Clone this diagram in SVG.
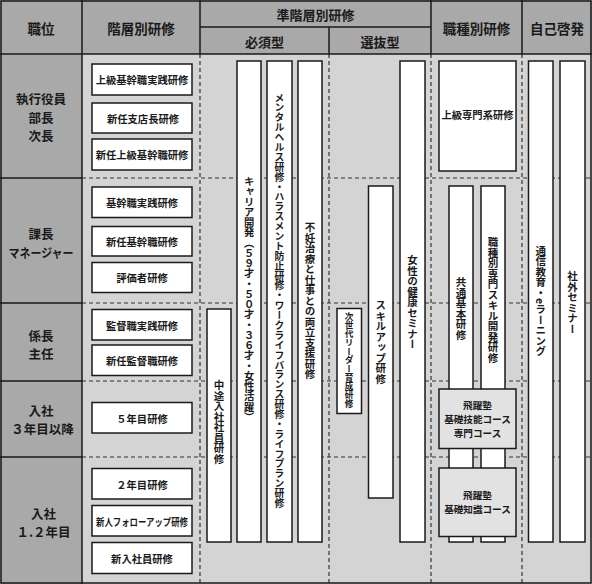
<svg xmlns="http://www.w3.org/2000/svg" width="592" height="584" viewBox="0 0 592 584">
<style>
text { font-family: "Noto Sans CJK JP", "Noto Sans", sans-serif; font-weight: 700; fill: #1a1a1a; }
.hd { font-size: 13.5px; text-anchor: middle; dominant-baseline: central; }
.hs { font-size: 13px; text-anchor: middle; dominant-baseline: central; }
.rt { font-size: 12.5px; text-anchor: middle; dominant-baseline: central; }
.bx { fill: #ffffff; stroke: #1a1a1a; stroke-width: 1.5; }
.gbx { fill: #e2e2e2; stroke: #1a1a1a; stroke-width: 1.5; }
.bt { font-size: 10.3px; text-anchor: middle; dominant-baseline: central; }
.ht { font-size: 9.6px; text-anchor: middle; dominant-baseline: central; }
.vt { font-size: 10.5px; writing-mode: vertical-rl; text-anchor: middle; dominant-baseline: central; }
.dash { stroke: #333333; stroke-width: 1.2; stroke-dasharray: 4 3; fill: none; }
.solid { stroke: #1a1a1a; stroke-width: 1.5; fill: none; }
</style>

<g id="background">
<rect x="0" y="0" width="592" height="584" fill="#d4d4d4"/>
<rect x="0" y="0" width="592" height="54" fill="#a9a9a9"/>
<rect x="0" y="54" width="82" height="530" fill="#a9a9a9"/>
</g>

<g id="grid">
<line class="dash" x1="82" y1="178" x2="591" y2="178"/>
<line class="dash" x1="82" y1="303" x2="591" y2="303"/>
<line class="dash" x1="82" y1="381" x2="591" y2="381"/>
<line class="dash" x1="82" y1="457" x2="591" y2="457"/>
<line class="dash" x1="200" y1="54" x2="200" y2="583"/>
<line class="dash" x1="329" y1="54" x2="329" y2="583"/>
<line class="dash" x1="431" y1="54" x2="431" y2="583"/>
<line class="dash" x1="522" y1="54" x2="522" y2="583"/>
<line class="solid" x1="0" y1="178" x2="82" y2="178"/>
<line class="solid" x1="0" y1="303" x2="82" y2="303"/>
<line class="solid" x1="0" y1="381" x2="82" y2="381"/>
<line class="solid" x1="0" y1="457" x2="82" y2="457"/>
<line class="solid" x1="0" y1="54" x2="592" y2="54"/>
<line class="solid" x1="200" y1="27" x2="431" y2="27"/>
<line class="solid" x1="82" y1="0" x2="82" y2="584"/>
<line class="solid" x1="200" y1="0" x2="200" y2="54"/>
<line class="solid" x1="329" y1="27" x2="329" y2="54"/>
<line class="solid" x1="431" y1="0" x2="431" y2="54"/>
<line class="solid" x1="522" y1="0" x2="522" y2="54"/>
<rect class="solid" x="1" y="1" width="590" height="582"/>
</g>

<g id="header">
<text class="hd" x="41" y="28">職位</text>
<text class="hd" x="141" y="28">階層別研修</text>
<text class="hs" x="315.5" y="14">準階層別研修</text>
<text class="hs" x="264.5" y="41">必須型</text>
<text class="hs" x="380" y="41">選抜型</text>
<text class="hd" x="476.5" y="28">職種別研修</text>
<text class="hd" x="557" y="28">自己啓発</text>
</g>

<g id="positions">
<text class="rt" x="41" y="98.5">執行役員</text>
<text class="rt" x="41" y="117">部長</text>
<text class="rt" x="41" y="135.5">次長</text>
<text class="rt" x="41" y="233.5">課長</text>
<text class="rt" x="41" y="252" textLength="65" lengthAdjust="spacingAndGlyphs">マネージャー</text>
<text class="rt" x="41" y="335">係長</text>
<text class="rt" x="41" y="353">主任</text>
<text class="rt" x="41" y="410">入社</text>
<text class="rt" x="42.5" y="428.5">３年目以降</text>
<text class="rt" x="43.5" y="513">入社</text>
<text class="rt" x="43.5" y="531">１.２年目</text>
</g>

<g id="kaiso-1"><rect class="bx" x="92" y="64" width="100" height="31"/><text class="bt" x="142" y="79.5">上級基幹職実践研修</text></g>
<g id="kaiso-2"><rect class="bx" x="92" y="103" width="100" height="30"/><text class="bt" x="143" y="118">新任支店長研修</text></g>
<g id="kaiso-3"><rect class="bx" x="92" y="139" width="100" height="31"/><text class="bt" x="142" y="154.5">新任上級基幹職研修</text></g>
<g id="kaiso-4"><rect class="bx" x="92" y="187" width="100" height="30.5"/><text class="bt" x="142" y="202">基幹職実践研修</text></g>
<g id="kaiso-5"><rect class="bx" x="92" y="226.5" width="100" height="29.5"/><text class="bt" x="142" y="241.5">新任基幹職研修</text></g>
<g id="kaiso-6"><rect class="bx" x="92" y="262.5" width="100" height="30"/><text class="bt" x="142" y="277.5">評価者研修</text></g>
<g id="kaiso-7"><rect class="bx" x="92" y="309.5" width="100" height="30.5"/><text class="bt" x="142" y="325">監督職実践研修</text></g>
<g id="kaiso-8"><rect class="bx" x="92" y="345" width="100" height="30.5"/><text class="bt" x="142" y="360.5">新任監督職研修</text></g>
<g id="kaiso-9"><rect class="bx" x="92" y="402.5" width="100" height="30.5"/><text class="bt" x="142" y="418">５年目研修</text></g>
<g id="kaiso-10"><rect class="bx" x="92" y="468.5" width="100" height="30.5"/><text class="bt" x="142" y="484">２年目研修</text></g>
<g id="kaiso-11"><rect class="bx" x="92" y="505.5" width="100" height="30.5"/><text class="bt" x="142" y="521" textLength="92" lengthAdjust="spacingAndGlyphs">新人フォローアップ研修</text></g>
<g id="kaiso-12"><rect class="bx" x="92" y="542.5" width="100" height="31"/><text class="bt" x="142" y="558">新入社員研修</text></g>

<g id="chuto"><rect class="bx" x="207" y="309" width="24" height="233"/><text class="vt" x="219" y="422">中途入社社員研修</text></g>
<g id="career"><rect class="bx" x="237" y="61" width="24" height="481"/><text class="vt" x="249" y="299" style="font-size:10.25px">キャリア開発（５９才・５０才・３６才・女性活躍）</text></g>
<g id="mental"><rect class="bx" x="267" y="61" width="25" height="481"/><text class="vt" x="279.5" y="300.5" style="font-size:9.9px">メンタルヘルス研修・ハラスメント防止研修・ワークライフバランス研修・ライフプラン研修</text></g>
<g id="funin"><rect class="bx" x="298" y="61" width="24" height="481"/><text class="vt" x="310" y="301">不妊治療と仕事との両立支援研修</text></g>
<g id="jisedai"><rect class="bx" x="337" y="308.5" width="24.5" height="105"/><text class="vt" x="349.2" y="360" style="font-size:8.66px">次世代リーダー育成研修</text></g>
<g id="skillup"><rect class="bx" x="368.5" y="186" width="24.5" height="312"/><text class="vt" x="380.7" y="342">スキルアップ研修</text></g>
<g id="josei"><rect class="bx" x="400" y="61" width="25" height="481"/><text class="vt" x="412.5" y="302.5">女性の健康セミナー</text></g>

<g id="jokyu-senmon"><rect class="bx" x="439" y="61" width="77" height="110"/><text class="bt" x="477.5" y="114">上級専門系研修</text></g>
<g id="kyotsu"><rect class="bx" x="449" y="186" width="24" height="356"/><text class="vt" x="461" y="308.5">共通基本研修</text></g>
<g id="shokushu"><rect class="bx" x="481" y="186" width="24" height="356"/><text class="vt" x="493" y="300">職種別専門スキル開発研修</text></g>
<g id="hiyaku-1"><rect class="gbx" x="439" y="389" width="77" height="59.5"/><text class="ht" x="477.5" y="404.7">飛躍塾</text><text class="ht" x="477.5" y="418.7">基礎技能コース</text><text class="ht" x="477.5" y="432.7">専門コース</text></g>
<g id="hiyaku-2"><rect class="gbx" x="439" y="468" width="77" height="68.5"/><text class="ht" x="477.5" y="495">飛躍塾</text><text class="ht" x="477.5" y="509">基礎知識コース</text></g>

<g id="tsushin"><rect class="bx" x="528.5" y="61" width="24.5" height="481"/><text class="vt" x="540.7" y="301">通信教育・eラーニング</text></g>
<g id="shagai"><rect class="bx" x="560" y="61" width="25" height="481"/><text class="vt" x="572.5" y="302.5">社外セミナー</text></g>
</svg>
